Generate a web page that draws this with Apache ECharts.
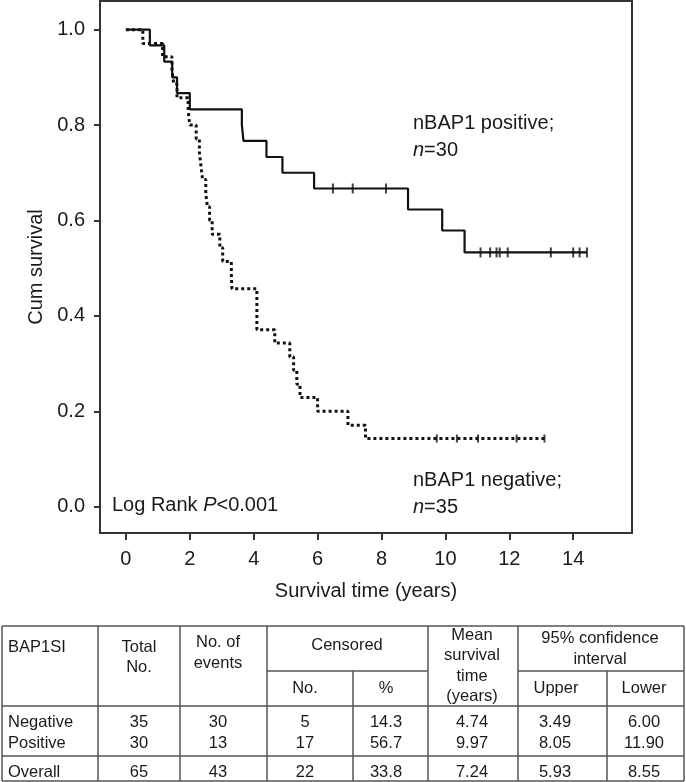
<!DOCTYPE html>
<html><head><meta charset="utf-8">
<script src="https://cdn.jsdelivr.net/npm/echarts@6.0.0/dist/echarts.min.js"></script>
<style>html,body{margin:0;padding:0;background:#fff}#c{width:686px;height:782px}</style>
</head><body><div id="c"></div><script>
// ---- data ----
const xTicks = [0, 2, 4, 6, 8, 10, 12, 14];
const yTicks = [0.0, 0.2, 0.4, 0.6, 0.8, 1.0];

const posTimes    = [0, 0.75, 1.2, 1.45, 1.6, 2.0, 3.63, 3.68, 4.4, 4.9, 5.89, 8.83, 9.9, 10.6, 14.43];
const posSurvival = [1, 0.967, 0.933, 0.9, 0.867, 0.833, 0.8, 0.767, 0.733, 0.7, 0.667, 0.623, 0.579, 0.533, 0.533];
const posCensorTimes = [6.48, 7.1, 8.14, 11.1, 11.4, 11.6, 11.7, 11.95, 13.3, 14.0, 14.2, 14.43];

const negTimes = [0, 0.53, 1.15, 1.44, 1.5, 1.6, 1.95, 2.0, 2.2, 2.3, 2.35, 2.4, 2.5, 2.55, 2.62, 2.7, 2.94, 3.03, 3.3, 3.32, 4.1, 4.1, 4.1, 4.66, 5.13, 5.25, 5.35, 5.45, 6.0, 6.95, 7.5, 13.1];
const negSurvival = [1, 0.971, 0.943, 0.914, 0.886, 0.857, 0.829, 0.8, 0.771, 0.743, 0.714, 0.686, 0.657, 0.629, 0.6, 0.571, 0.543, 0.514, 0.486, 0.457, 0.429, 0.4, 0.371, 0.343, 0.314, 0.286, 0.257, 0.229, 0.2, 0.171, 0.143, 0.143];
const negCensorTimes = [9.73, 10.36, 11.02, 12.23, 13.1];

const posLabel = ['nBAP1 positive;', '{i|n}=30'];
const negLabel = ['nBAP1 negative;', '{i|n}=35'];
const logRankLabel = 'Log Rank {i|P}<0.001';

// table
const tableRowLabels = ['Negative', 'Positive', 'Overall'];
const totalNo = ['35', '30', '65'];
const numEvents = ['30', '13', '43'];
const censoredNo = ['5', '17', '22'];
const censoredPct = ['14.3', '56.7', '33.8'];
const meanSurvival = ['4.74', '9.97', '7.24'];
const ciUpper = ['3.49', '8.05', '5.93'];
const ciLower = ['6.00', '11.90', '8.55'];

// ---- helpers ----
function survAt(times, surv, t) {
  let s = surv[0];
  for (let i = 0; i < times.length; i++) { if (times[i] <= t) s = surv[i]; }
  return s;
}
const FONT = "'Liberation Sans', Arial, Helvetica, sans-serif";
const INK = '#1a1a1a';

const chart = echarts.init(document.getElementById('c'), null, {renderer: 'canvas'});

// ---- table graphics ----
const G = [];
const lineCol = '#555';
function hl(x1, x2, y) { G.push({type: 'line', shape: {x1, y1: y, x2, y2: y}, style: {stroke: lineCol, lineWidth: 1.5}}); }
function vl(x, y1, y2) { G.push({type: 'line', shape: {x1: x, y1, x2: x, y2}, style: {stroke: lineCol, lineWidth: 1.5}}); }
function tx(str, x, y, align) {
  G.push({type: 'text', x, y, style: {text: str, font: '16.5px ' + FONT, fill: INK, align: align || 'center', verticalAlign: 'middle'}});
}
const T = {left: 2, right: 684, top: 626, sub: 671, head: 706, mid: 756, bottom: 781};
hl(T.left, T.right, T.top); hl(T.left, T.right, T.head); hl(T.left, T.right, T.mid); hl(T.left, T.right, T.bottom);
hl(267, 428, T.sub); hl(518, T.right, T.sub);
[T.left, 98, 180, 267, 428, 518, T.right].forEach(x => vl(x, T.top, T.bottom));
vl(353, T.sub, T.bottom); vl(607, T.sub, T.bottom);

tx('BAP1SI', 8, 647, 'left');
tx('Total', 139, 647); tx('No.', 139, 667);
tx('No. of', 218, 642); tx('events', 218, 663);
tx('Censored', 347, 645);
tx('No.', 305, 688); tx('%', 386, 688);
tx('Mean', 472, 635); tx('survival', 472, 655); tx('time', 472, 676); tx('(years)', 472, 696);
tx('95% confidence', 600, 638); tx('interval', 600, 659);
tx('Upper', 556, 688); tx('Lower', 644, 688);

const rowY = [722, 743, 772];
const colX = [139, 218, 305, 386, 472, 555, 644];
const cols = [totalNo, numEvents, censoredNo, censoredPct, meanSurvival, ciUpper, ciLower];
tableRowLabels.forEach((lab, r) => {
  tx(lab, 8, rowY[r], 'left');
  cols.forEach((arr, c) => tx(arr[r], colX[c], rowY[r]));
});

// ---- plot annotations ----
function ptxt(str, x, y) {
  G.push({type: 'text', x, y, z: 10, style: {text: str, font: '20px ' + FONT, fill: INK, align: 'left', verticalAlign: 'middle',
    rich: {i: {fontStyle: 'italic', fontSize: 20, fontFamily: FONT, fill: INK}}}});
}
ptxt(posLabel[0], 413, 123); ptxt(posLabel[1], 413, 150);
ptxt(negLabel[0], 413, 480); ptxt(negLabel[1], 413, 507);
ptxt(logRankLabel, 112, 505);

const option = {
  animation: false,
  backgroundColor: '#fff',
  textStyle: {fontFamily: FONT},
  grid: {left: 100, top: 1, width: 532, height: 532, show: true, borderColor: '#333', borderWidth: 2, backgroundColor: 'transparent'},
  xAxis: {
    type: 'value', min: -0.81, max: 15.84,
    name: 'Survival time (years)', nameLocation: 'middle', nameGap: 48,
    nameTextStyle: {fontSize: 20, color: INK, fontFamily: FONT},
    axisLine: {show: true, onZero: false, lineStyle: {color: '#333', width: 2}},
    axisTick: {show: true, customValues: xTicks, length: 7, lineStyle: {color: '#333', width: 2}},
    axisLabel: {customValues: xTicks, fontSize: 20, color: INK, margin: 16, fontFamily: FONT},
    splitLine: {show: false}
  },
  yAxis: {
    type: 'value', min: -0.055, max: 1.06,
    name: 'Cum survival', nameLocation: 'middle', nameGap: 54,
    nameTextStyle: {fontSize: 20, color: INK, fontFamily: FONT},
    axisLine: {show: true, onZero: false, lineStyle: {color: '#333', width: 2}},
    axisTick: {show: true, customValues: yTicks, length: 6, lineStyle: {color: '#333', width: 2}},
    axisLabel: {customValues: yTicks, fontSize: 20, color: INK, margin: 15, fontFamily: FONT, formatter: v => v.toFixed(1)},
    splitLine: {show: false}
  },
  series: [
    {type: 'line', step: 'end', symbol: 'none', data: posTimes.map((t, i) => [t, posSurvival[i]]),
     lineStyle: {color: '#111', width: 2.2}},
    {type: 'line', step: 'end', symbol: 'none', data: negTimes.map((t, i) => [t, negSurvival[i]]),
     lineStyle: {color: '#111', width: 3, type: [3, 3], cap: 'butt'}},
    {type: 'scatter', symbol: 'rect', symbolSize: [2, 10], itemStyle: {color: '#111'},
     data: posCensorTimes.map(t => [t, survAt(posTimes, posSurvival, t)])},
    {type: 'scatter', symbol: 'rect', symbolSize: [2, 8], itemStyle: {color: '#111'},
     data: negCensorTimes.map(t => [t, survAt(negTimes, negSurvival, t)])}
  ],
  graphic: G
};
chart.setOption(option);
</script></body></html>
